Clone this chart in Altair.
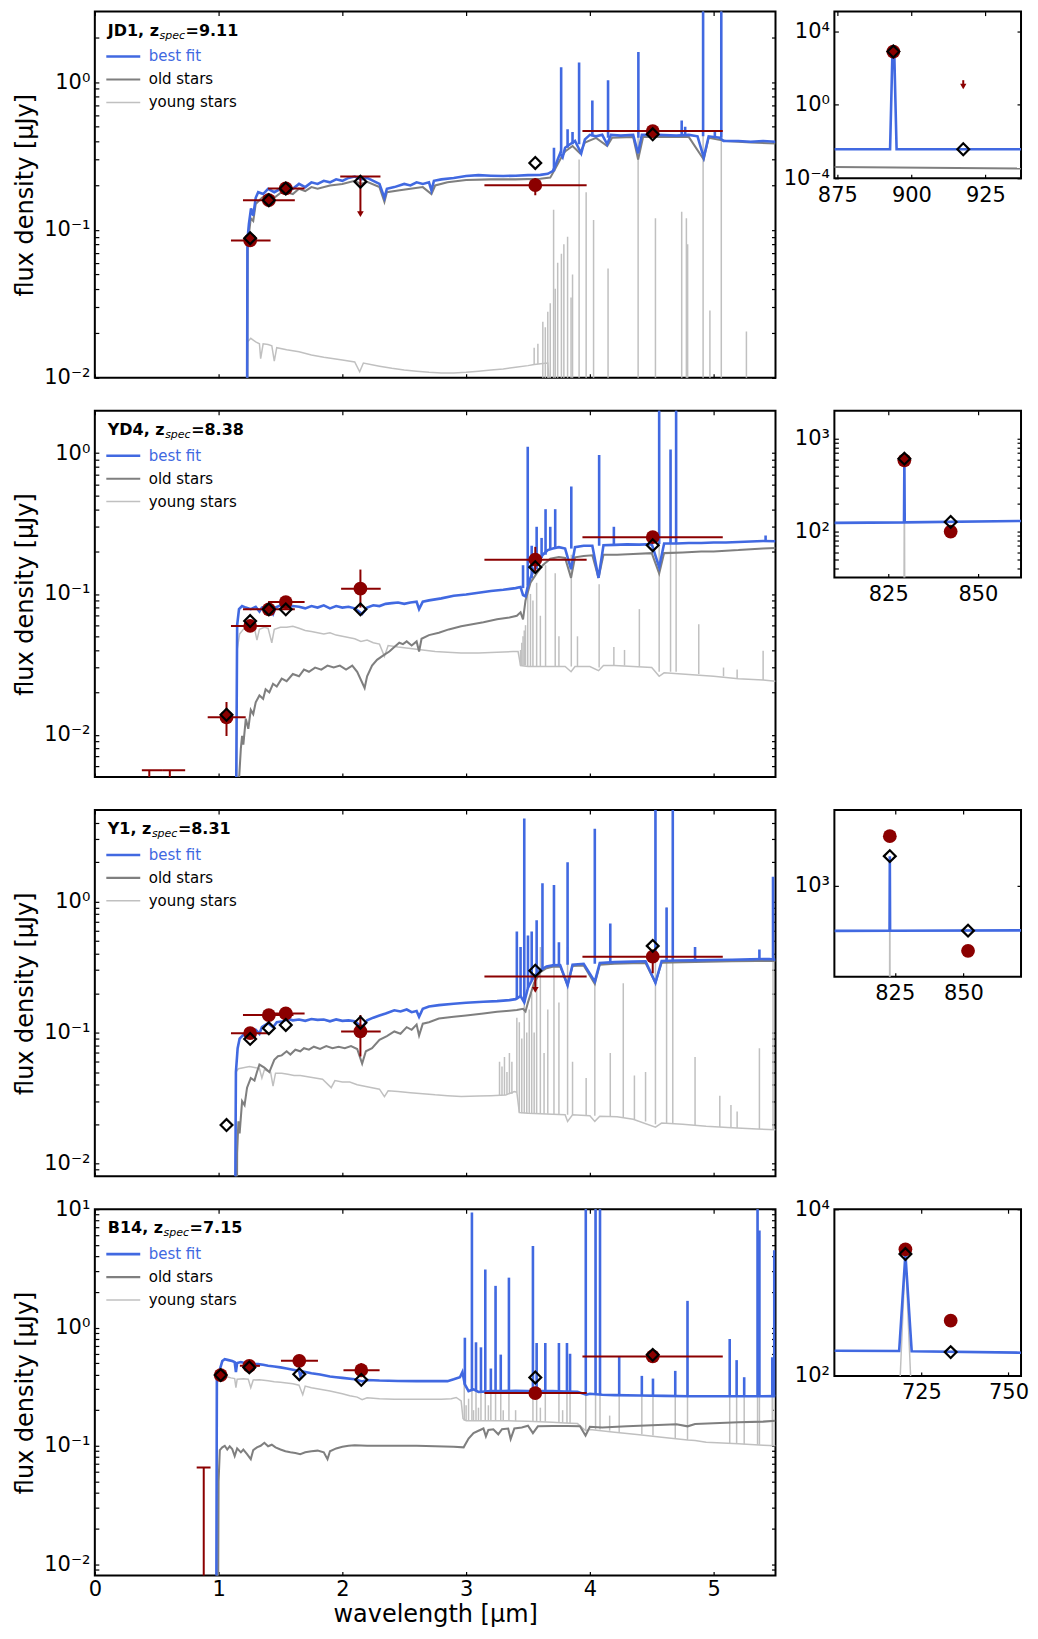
import altair as alt
import pandas as pd

BLUE = "#4169e1"
OLD_C = "#7f7f7f"
YOUNG_C = "#c0c0c0"
RED = "#8b0000"
COMPS = ["best fit", "old stars", "young stars"]
FONT = "DejaVu Sans"

# ================= JD1 =================
JD1_NAME, JD1_Z = "JD1", "9.11"
JD1_YDOM = [0.01, 3.0]
JD1_BEST = [(1.226, 1e-4), (1.233, 0.085), (1.245, 0.11), (1.262, 0.14), (1.28, 0.125), (1.30, 0.165), (1.32, 0.18),
            (1.36, 0.175), (1.40, 0.19), (1.45, 0.18), (1.50, 0.19), (1.55, 0.195), (1.60, 0.19), (1.65, 0.205),
            (1.70, 0.195), (1.75, 0.21), (1.80, 0.205), (1.85, 0.215), (1.90, 0.21), (1.95, 0.22), (2.00, 0.215),
            (2.05, 0.225), (2.10, 0.23), (2.15, 0.22), (2.20, 0.225), (2.25, 0.215), (2.30, 0.205), (2.34, 0.165),
            (2.36, 0.19), (2.42, 0.195), (2.50, 0.205), (2.55, 0.2), (2.60, 0.21), (2.65, 0.205), (2.70, 0.21),
            (2.72, 0.185), (2.74, 0.215), (2.80, 0.22), (2.90, 0.225), (3.00, 0.232), (3.10, 0.235), (3.20, 0.233),
            (3.30, 0.232), (3.40, 0.233), (3.50, 0.235), (3.60, 0.236), (3.66, 0.24), (3.70, 0.25), (3.72, 0.27),
            (3.74, 0.30), (3.76, 0.33), (3.78, 0.31), (3.80, 0.36), (3.84, 0.38), (3.88, 0.40), (3.93, 0.33),
            (3.96, 0.41), (4.00, 0.44), (4.05, 0.43), (4.10, 0.44), (4.14, 0.38), (4.17, 0.44), (4.25, 0.435),
            (4.35, 0.44), (4.39, 0.33), (4.42, 0.44), (4.55, 0.44), (4.70, 0.435), (4.80, 0.44), (4.87, 0.43),
            (4.92, 0.31), (4.96, 0.43), (5.05, 0.42), (5.08, 0.40), (5.20, 0.40), (5.30, 0.395), (5.40, 0.40),
            (5.50, 0.395)]
JD1_BEST_LINES = [(3.71, 0.25, 0.36), (3.768, 0.33, 1.26), (3.82, 0.36, 0.48), (3.86, 0.38, 0.46), (3.913, 0.38, 1.36),
                  (4.02, 0.43, 0.75), (4.147, 0.42, 1.03), (4.392, 0.42, 1.6), (4.742, 0.44, 0.55), (4.77, 0.44, 0.5),
                  (4.915, 0.43, 50.0), (5.01, 0.42, 0.47), (5.062, 0.42, 50.0)]
JD1_OLD = [(1.226, 1e-4), (1.235, 0.08), (1.26, 0.12), (1.28, 0.115), (1.30, 0.15), (1.35, 0.165), (1.40, 0.175),
           (1.45, 0.165), (1.50, 0.178), (1.55, 0.18), (1.60, 0.175), (1.65, 0.19), (1.70, 0.183), (1.75, 0.195),
           (1.80, 0.19), (1.90, 0.2), (2.00, 0.205), (2.10, 0.215), (2.15, 0.205), (2.20, 0.212), (2.30, 0.195),
           (2.34, 0.155), (2.36, 0.18), (2.45, 0.185), (2.55, 0.19), (2.65, 0.195), (2.72, 0.175), (2.75, 0.2),
           (2.85, 0.21), (3.00, 0.218), (3.20, 0.22), (3.40, 0.22), (3.60, 0.222), (3.68, 0.226), (3.72, 0.26),
           (3.76, 0.30), (3.80, 0.34), (3.86, 0.37), (3.92, 0.33), (3.96, 0.39), (4.05, 0.42), (4.14, 0.37),
           (4.18, 0.42), (4.35, 0.425), (4.39, 0.30), (4.43, 0.425), (4.60, 0.425), (4.80, 0.425), (4.92, 0.30),
           (4.96, 0.42), (5.10, 0.40), (5.30, 0.39), (5.50, 0.385)]
JD1_YOUNG = [(1.226, 1e-4), (1.233, 0.0175), (1.26, 0.0185), (1.30, 0.0175), (1.33, 0.017), (1.34, 0.0135),
             (1.36, 0.017), (1.40, 0.0168), (1.43, 0.0165), (1.45, 0.013), (1.47, 0.016), (1.55, 0.0155),
             (1.65, 0.015), (1.75, 0.0143), (1.85, 0.0138), (2.00, 0.0132), (2.10, 0.0128), (2.14, 0.011),
             (2.17, 0.0126), (2.30, 0.012), (2.40, 0.0116), (2.50, 0.0113), (2.60, 0.0111), (2.70, 0.0109),
             (2.80, 0.0108), (2.90, 0.0108), (3.00, 0.0109), (3.10, 0.0111), (3.20, 0.0113), (3.30, 0.0115),
             (3.40, 0.0118), (3.50, 0.0121), (3.55, 0.0123), (3.62, 0.0125), (3.66, 0.0126), (3.70, 0.0045),
             (3.90, 0.004), (4.50, 0.0035), (5.50, 0.003)]
JD1_YOUNG_LINES = [(3.55, 0.0122, 0.016), (3.58, 0.0124, 0.017), (3.62, 0.004, 0.024), (3.64, 0.004, 0.022),
                   (3.66, 0.004, 0.028), (3.68, 0.004, 0.032), (3.707, 0.004, 0.137), (3.72, 0.004, 0.04),
                   (3.74, 0.004, 0.06), (3.77, 0.004, 0.069), (3.79, 0.004, 0.08), (3.82, 0.004, 0.09),
                   (3.848, 0.004, 0.035), (3.86, 0.004, 0.05), (3.913, 0.004, 0.3), (3.97, 0.004, 0.18),
                   (4.03, 0.004, 0.117), (4.147, 0.004, 0.055), (4.39, 0.004, 0.5), (4.53, 0.004, 0.12),
                   (4.742, 0.004, 0.133), (4.78, 0.004, 0.12), (4.79, 0.004, 0.08), (4.915, 0.004, 50.0),
                   (4.97, 0.004, 0.0286), (5.062, 0.004, 50.0), (5.265, 0.004, 0.0206)]
JD1_OBS = [(1.255, 0.085, 1.10, 1.42, 0.085, 0.085), (1.406, 0.159, 1.197, 1.616, 0.159, 0.159),
           (1.543, 0.191, 1.40, 1.695, 0.191, 0.191), (3.559, 0.201, 3.148, 3.974, 0.172, 0.225),
           (4.508, 0.467, 3.94, 5.074, 0.44, 0.50)]
JD1_ULIM = [(2.146, 0.23, 1.983, 2.308, 0.128)]
JD1_CAPS = []
JD1_MODEL = [(1.255, 0.088), (1.406, 0.159), (1.543, 0.191), (2.146, 0.212), (3.559, 0.284), (4.508, 0.444)]
JD1_IN_XDOM, JD1_IN_YDOM = [874, 937], [1e-4, 1.2e5]
JD1_IN_XTICKS, JD1_IN_YTICKS = [875, 900, 925], [1e-4, 1.0, 1e4]
JD1_IN_BEST = [(874, 0.0038), (892.8, 0.0038), (893.6, 800), (894.2, 800), (895.0, 0.0038), (937, 0.0038)]
JD1_IN_OLD = [(874, 4.1e-4), (937, 3.4e-4)]
JD1_IN_YOUNG = []
JD1_IN_OBS = [(893.9, 800)]
JD1_IN_MODEL = [(893.9, 800), (917.5, 0.0038)]
JD1_IN_ULIM = [(917.5, 22.0, 10.0)]

# ================= YD4 =================
YD4_NAME, YD4_Z = "YD4", "8.38"
YD4_YDOM = [0.005, 2.0]
YD4_BEST = [(1.135, 1e-4), (1.143, 0.005), (1.15, 0.06), (1.165, 0.078), (1.19, 0.082), (1.22, 0.08), (1.26, 0.078),
            (1.30, 0.081), (1.33, 0.075), (1.35, 0.08), (1.40, 0.082), (1.44, 0.072), (1.46, 0.08), (1.50, 0.083),
            (1.55, 0.08), (1.60, 0.082), (1.65, 0.081), (1.70, 0.079), (1.75, 0.082), (1.80, 0.08), (1.85, 0.083),
            (1.90, 0.079), (1.95, 0.082), (2.00, 0.08), (2.05, 0.081), (2.10, 0.079), (2.16, 0.072), (2.20, 0.08),
            (2.25, 0.083), (2.30, 0.082), (2.35, 0.085), (2.40, 0.086), (2.45, 0.087), (2.50, 0.085), (2.55, 0.087),
            (2.60, 0.088), (2.62, 0.078), (2.65, 0.088), (2.70, 0.09), (2.80, 0.093), (2.90, 0.097), (3.00, 0.099),
            (3.10, 0.102), (3.20, 0.105), (3.30, 0.107), (3.40, 0.11), (3.44, 0.112), (3.46, 0.098), (3.48, 0.096),
            (3.50, 0.115), (3.52, 0.13), (3.55, 0.15), (3.58, 0.17), (3.62, 0.19), (3.66, 0.205), (3.70, 0.21),
            (3.75, 0.215), (3.80, 0.21), (3.848, 0.15), (3.88, 0.215), (3.95, 0.22), (4.02, 0.22), (4.07, 0.13),
            (4.11, 0.222), (4.20, 0.223), (4.30, 0.225), (4.40, 0.224), (4.50, 0.226), (4.56, 0.155), (4.60, 0.228),
            (4.70, 0.228), (4.80, 0.23), (4.90, 0.23), (5.00, 0.232), (5.10, 0.232), (5.20, 0.234), (5.30, 0.236),
            (5.40, 0.238), (5.50, 0.237)]
YD4_BEST_LINES = [(3.46, 0.11, 0.16), (3.498, 0.115, 1.11), (3.53, 0.13, 0.22), (3.57, 0.15, 0.30), (3.61, 0.18, 0.25),
                  (3.642, 0.19, 0.40), (3.68, 0.205, 0.30), (3.72, 0.21, 0.40), (3.85, 0.21, 0.58),
                  (4.075, 0.22, 0.97), (4.194, 0.223, 0.30), (4.56, 0.226, 50.0), (4.652, 0.228, 1.06),
                  (4.697, 0.228, 50.0), (5.42, 0.238, 0.26)]
YD4_OLD = [(1.145, 1e-4), (1.16, 0.004), (1.18, 0.008), (1.19, 0.0098), (1.20, 0.0085), (1.22, 0.013), (1.24, 0.011),
           (1.26, 0.015), (1.28, 0.014), (1.30, 0.017), (1.33, 0.019), (1.36, 0.018), (1.38, 0.021), (1.41, 0.02),
           (1.44, 0.023), (1.47, 0.022), (1.51, 0.025), (1.55, 0.024), (1.60, 0.027), (1.65, 0.026), (1.69, 0.029),
           (1.73, 0.028), (1.78, 0.03), (1.83, 0.029), (1.88, 0.031), (1.93, 0.03), (1.98, 0.031), (2.03, 0.029),
           (2.08, 0.031), (2.12, 0.028), (2.18, 0.0215), (2.20, 0.026), (2.24, 0.031), (2.28, 0.034), (2.34, 0.037),
           (2.38, 0.039), (2.42, 0.042), (2.46, 0.045), (2.49, 0.044), (2.52, 0.046), (2.56, 0.043), (2.60, 0.046),
           (2.62, 0.039), (2.64, 0.048), (2.70, 0.051), (2.78, 0.053), (2.86, 0.056), (2.96, 0.059), (3.05, 0.061),
           (3.14, 0.063), (3.25, 0.066), (3.35, 0.068), (3.41, 0.07), (3.44, 0.074), (3.46, 0.066), (3.48, 0.09),
           (3.52, 0.12), (3.57, 0.14), (3.62, 0.16), (3.68, 0.178), (3.75, 0.183), (3.80, 0.18), (3.848, 0.13),
           (3.88, 0.182), (3.95, 0.186), (4.02, 0.188), (4.07, 0.13), (4.11, 0.19), (4.22, 0.19), (4.35, 0.192),
           (4.50, 0.195), (4.56, 0.14), (4.60, 0.195), (4.75, 0.197), (4.90, 0.2), (5.00, 0.2), (5.10, 0.203),
           (5.20, 0.205), (5.30, 0.208), (5.40, 0.21), (5.50, 0.212)]
YD4_YOUNG = [(1.143, 1e-4), (1.15, 0.04), (1.17, 0.052), (1.20, 0.056), (1.25, 0.057), (1.29, 0.057), (1.31, 0.047),
             (1.33, 0.056), (1.37, 0.058), (1.40, 0.057), (1.43, 0.045), (1.45, 0.056), (1.50, 0.058), (1.55, 0.058),
             (1.60, 0.059), (1.65, 0.057), (1.70, 0.055), (1.75, 0.054), (1.80, 0.053), (1.85, 0.052), (1.90, 0.053),
             (1.95, 0.051), (2.00, 0.05), (2.05, 0.049), (2.10, 0.048), (2.15, 0.046), (2.20, 0.047), (2.25, 0.045),
             (2.30, 0.044), (2.34, 0.036), (2.37, 0.043), (2.45, 0.042), (2.55, 0.041), (2.65, 0.04), (2.75, 0.039),
             (2.85, 0.0385), (2.96, 0.038), (3.10, 0.038), (3.25, 0.0385), (3.38, 0.039), (3.42, 0.039), (3.44, 0.031),
             (3.50, 0.0305), (3.60, 0.0305), (3.70, 0.0305), (3.80, 0.0305), (3.848, 0.028), (3.88, 0.0305),
             (4.00, 0.0305), (4.07, 0.0285), (4.11, 0.031), (4.20, 0.031), (4.35, 0.0305), (4.50, 0.03),
             (4.56, 0.026), (4.60, 0.0275), (4.80, 0.0268), (5.00, 0.026), (5.20, 0.025), (5.40, 0.0245),
             (5.50, 0.024)]
YD4_YOUNG_LINES = [(3.44, 0.031, 0.04), (3.45, 0.031, 0.045), (3.46, 0.031, 0.05), (3.47, 0.031, 0.055),
                   (3.48, 0.031, 0.06), (3.498, 0.0305, 0.11), (3.52, 0.0305, 0.1), (3.54, 0.0305, 0.09),
                   (3.57, 0.0305, 0.12), (3.60, 0.0305, 0.07), (3.642, 0.0305, 0.16), (3.72, 0.0305, 0.14),
                   (3.75, 0.0305, 0.05), (3.85, 0.0305, 0.19), (3.90, 0.0305, 0.05), (4.075, 0.03, 0.117),
                   (4.194, 0.031, 0.042), (4.28, 0.031, 0.04), (4.40, 0.0305, 0.078), (4.56, 0.028, 50.0),
                   (4.652, 0.028, 1.0), (4.697, 0.028, 50.0), (4.88, 0.027, 0.061), (5.08, 0.026, 0.03),
                   (5.19, 0.025, 0.029), (5.40, 0.0245, 0.0395)]
YD4_OBS = [(1.064, 0.0133, 0.912, 1.219, 0.0098, 0.0171), (1.255, 0.0592, 1.10, 1.424, 0.0592, 0.0592),
           (1.406, 0.0777, 1.197, 1.616, 0.0777, 0.0777), (1.543, 0.0875, 1.40, 1.695, 0.0875, 0.0875),
           (2.146, 0.109, 1.99, 2.31, 0.08, 0.149), (3.559, 0.175, 3.148, 3.974, 0.145, 0.216),
           (4.508, 0.253, 3.94, 5.074, 0.238, 0.27)]
YD4_ULIM = []
YD4_CAPS = [(0.44, 0.0056, 0.38, 0.55), (0.606, 0.0056, 0.55, 0.73)]
YD4_MODEL = [(1.064, 0.01386), (1.255, 0.0642), (1.406, 0.0777), (1.543, 0.0777), (2.146, 0.0777), (3.559, 0.155),
             (4.508, 0.222)]
YD4_IN_XDOM, YD4_IN_YDOM = [810, 862], [32, 2000]
YD4_IN_XTICKS, YD4_IN_YTICKS = [825, 850], [40, 50, 60, 70, 80, 90, 100, 200, 300, 400, 500, 600, 700, 800, 900, 1000]
YD4_IN_BEST = [(810, 124), (829.4, 125.5), (829.5, 600), (829.6, 125.5), (862, 130)]
YD4_IN_OLD = []
YD4_IN_YOUNG = [(810, 20), (829.4, 20), (829.5, 600), (829.6, 20), (862, 20)]
YD4_IN_OBS = [(829.5, 585), (842.4, 100)]
YD4_IN_MODEL = [(829.5, 610), (842.4, 127)]
YD4_IN_ULIM = []

# ================= Y1 =================
Y1_NAME, Y1_Z = "Y1", "8.31"
Y1_YDOM = [0.008, 5.0]
Y1_BEST = [(1.128, 1e-4), (1.136, 0.01), (1.14, 0.05), (1.154, 0.076), (1.17, 0.09), (1.20, 0.096), (1.23, 0.093),
           (1.26, 0.1), (1.30, 0.105), (1.33, 0.098), (1.35, 0.11), (1.40, 0.118), (1.44, 0.11), (1.47, 0.12),
           (1.52, 0.122), (1.56, 0.127), (1.60, 0.124), (1.65, 0.126), (1.70, 0.123), (1.75, 0.127), (1.80, 0.125),
           (1.85, 0.126), (1.90, 0.122), (1.95, 0.126), (2.00, 0.123), (2.05, 0.124), (2.10, 0.122), (2.16, 0.11),
           (2.20, 0.124), (2.25, 0.13), (2.30, 0.135), (2.35, 0.14), (2.42, 0.148), (2.47, 0.145), (2.52, 0.15),
           (2.56, 0.143), (2.60, 0.146), (2.62, 0.132), (2.65, 0.152), (2.70, 0.158), (2.78, 0.162), (2.90, 0.166),
           (3.00, 0.169), (3.14, 0.172), (3.25, 0.174), (3.35, 0.177), (3.40, 0.18), (3.44, 0.19), (3.47, 0.17),
           (3.50, 0.22), (3.55, 0.27), (3.60, 0.3), (3.65, 0.32), (3.70, 0.326), (3.76, 0.328), (3.82, 0.23),
           (3.86, 0.33), (3.95, 0.335), (4.04, 0.245), (4.08, 0.34), (4.20, 0.345), (4.35, 0.348), (4.45, 0.35),
           (4.53, 0.24), (4.58, 0.352), (4.70, 0.355), (4.85, 0.356), (5.00, 0.358), (5.15, 0.36), (5.30, 0.362),
           (5.45, 0.365), (5.50, 0.36)]
Y1_BEST_LINES = [(3.41, 0.18, 0.59), (3.44, 0.19, 0.45), (3.47, 0.17, 4.3), (3.50, 0.22, 0.55), (3.53, 0.25, 0.59),
                 (3.57, 0.28, 0.72), (3.617, 0.30, 1.38), (3.71, 0.326, 1.34), (3.75, 0.328, 0.49),
                 (3.82, 0.33, 2.0), (4.04, 0.335, 3.6), (4.165, 0.342, 0.68), (4.53, 0.35, 50.0),
                 (4.62, 0.353, 0.9), (4.67, 0.355, 50.0), (4.85, 0.356, 0.45), (5.37, 0.363, 0.43),
                 (5.48, 0.365, 1.55)]
Y1_OLD = [(1.14, 1e-4), (1.15, 0.012), (1.16, 0.021), (1.17, 0.017), (1.19, 0.03), (1.21, 0.028), (1.23, 0.038),
          (1.26, 0.045), (1.29, 0.043), (1.31, 0.05), (1.33, 0.057), (1.37, 0.054), (1.41, 0.05), (1.45, 0.062),
          (1.48, 0.066), (1.51, 0.067), (1.55, 0.072), (1.58, 0.068), (1.62, 0.074), (1.66, 0.072), (1.69, 0.076),
          (1.73, 0.074), (1.77, 0.078), (1.82, 0.075), (1.87, 0.079), (1.92, 0.076), (1.97, 0.078), (2.02, 0.076),
          (2.07, 0.079), (2.12, 0.075), (2.16, 0.058), (2.19, 0.072), (2.24, 0.076), (2.30, 0.088), (2.36, 0.094),
          (2.42, 0.102), (2.47, 0.098), (2.52, 0.11), (2.56, 0.105), (2.60, 0.115), (2.62, 0.095), (2.65, 0.117),
          (2.70, 0.12), (2.78, 0.128), (2.90, 0.132), (3.00, 0.135), (3.14, 0.14), (3.25, 0.144), (3.35, 0.147),
          (3.41, 0.149), (3.46, 0.152), (3.48, 0.145), (3.50, 0.17), (3.55, 0.24), (3.60, 0.29), (3.65, 0.31),
          (3.70, 0.318), (3.76, 0.32), (3.82, 0.23), (3.86, 0.322), (3.95, 0.326), (4.04, 0.235), (4.08, 0.33),
          (4.20, 0.335), (4.35, 0.338), (4.45, 0.34), (4.53, 0.24), (4.58, 0.342), (4.75, 0.345), (4.95, 0.347),
          (5.15, 0.35), (5.35, 0.352), (5.50, 0.352)]
Y1_YOUNG = [(1.135, 1e-4), (1.14, 0.05), (1.16, 0.053), (1.20, 0.054), (1.25, 0.055), (1.30, 0.054), (1.33, 0.053),
            (1.35, 0.045), (1.37, 0.052), (1.42, 0.05), (1.44, 0.039), (1.46, 0.049), (1.51, 0.049), (1.56, 0.048),
            (1.61, 0.047), (1.66, 0.047), (1.72, 0.046), (1.78, 0.045), (1.84, 0.044), (1.91, 0.038), (1.94, 0.043),
            (2.00, 0.042), (2.06, 0.042), (2.12, 0.04), (2.18, 0.039), (2.24, 0.038), (2.30, 0.037), (2.34, 0.0325),
            (2.37, 0.036), (2.45, 0.0355), (2.55, 0.0348), (2.65, 0.0342), (2.75, 0.0335), (2.85, 0.033),
            (2.96, 0.0325), (3.10, 0.0328), (3.20, 0.033), (3.32, 0.0334), (3.39, 0.0355), (3.41, 0.035),
            (3.43, 0.0245), (3.50, 0.0242), (3.60, 0.024), (3.70, 0.0238), (3.80, 0.0236), (3.82, 0.021),
            (3.86, 0.0236), (4.00, 0.0232), (4.04, 0.021), (4.08, 0.023), (4.22, 0.0228), (4.35, 0.0218),
            (4.53, 0.019), (4.58, 0.0204), (4.75, 0.02), (4.94, 0.0193), (5.15, 0.0188), (5.35, 0.0184),
            (5.50, 0.0181)]
Y1_YOUNG_LINES = [(3.27, 0.0333, 0.06), (3.29, 0.0333, 0.055), (3.31, 0.0334, 0.065), (3.33, 0.0334, 0.05),
                  (3.35, 0.034, 0.07), (3.37, 0.034, 0.06), (3.41, 0.035, 0.13), (3.43, 0.0245, 0.12),
                  (3.45, 0.0242, 0.09), (3.47, 0.0242, 0.3), (3.49, 0.0242, 0.1), (3.51, 0.0242, 0.15),
                  (3.53, 0.0242, 0.2), (3.55, 0.0242, 0.1), (3.57, 0.024, 0.3), (3.60, 0.024, 0.45),
                  (3.63, 0.024, 0.07), (3.66, 0.024, 0.15), (3.71, 0.0238, 0.4), (3.75, 0.0238, 0.17),
                  (3.82, 0.0236, 0.45), (3.86, 0.0236, 0.06), (3.97, 0.0233, 0.045), (4.04, 0.0232, 0.25),
                  (4.165, 0.0229, 0.07), (4.27, 0.0225, 0.238), (4.36, 0.0218, 0.047), (4.45, 0.021, 0.05),
                  (4.53, 0.02, 50.0), (4.62, 0.0204, 0.9), (4.67, 0.0204, 50.0), (4.85, 0.0196, 0.065),
                  (5.05, 0.019, 0.033), (5.14, 0.0188, 0.028), (5.19, 0.0187, 0.025), (5.37, 0.0184, 0.076),
                  (5.48, 0.0181, 1.5)]
Y1_OBS = [(1.255, 0.0989, 1.10, 1.406, 0.0989, 0.0989), (1.406, 0.136, 1.197, 1.605, 0.136, 0.136),
          (1.543, 0.14, 1.40, 1.695, 0.14, 0.14), (2.146, 0.102, 1.99, 2.31, 0.0656, 0.136),
          (4.508, 0.38, 3.94, 5.074, 0.284, 0.43)]
Y1_ULIM = [(3.559, 0.268, 3.148, 3.974, 0.212)]
Y1_CAPS = []
Y1_MODEL = [(1.064, 0.0197), (1.255, 0.0895), (1.406, 0.108), (1.543, 0.1144), (2.146, 0.119), (3.559, 0.297),
            (4.508, 0.459)]
Y1_IN_XDOM, Y1_IN_YDOM = [803, 871], [174, 4300]
Y1_IN_XTICKS, Y1_IN_YTICKS = [825, 850], [1000]
Y1_IN_BEST = [(803, 420), (823.1, 421), (823.2, 1770), (823.3, 421), (871, 424)]
Y1_IN_OLD = []
Y1_IN_YOUNG = [(803, 100), (823.1, 100), (823.2, 1700), (823.3, 100), (871, 100)]
Y1_IN_OBS = [(823.2, 2600), (851.7, 286)]
Y1_IN_MODEL = [(823.2, 1770), (851.7, 422)]
Y1_IN_ULIM = []

# ================= B14 =================
B14_NAME, B14_Z = "B14", "7.15"
B14_YDOM = [0.008, 10.0]
B14_BEST = [(0.978, 1e-4), (0.986, 0.37), (0.995, 0.39), (1.01, 0.44), (1.03, 0.52), (1.05, 0.54), (1.08, 0.53),
            (1.11, 0.52), (1.13, 0.51), (1.14, 0.42), (1.15, 0.5), (1.18, 0.51), (1.21, 0.5), (1.24, 0.49),
            (1.26, 0.455), (1.28, 0.49), (1.32, 0.49), (1.36, 0.485), (1.40, 0.475), (1.45, 0.468), (1.50, 0.46),
            (1.55, 0.45), (1.60, 0.44), (1.65, 0.43), (1.66, 0.39), (1.68, 0.425), (1.75, 0.41), (1.82, 0.4),
            (1.90, 0.385), (1.95, 0.38), (2.00, 0.375), (2.10, 0.365), (2.16, 0.35), (2.20, 0.36), (2.30, 0.356),
            (2.45, 0.353), (2.60, 0.352), (2.75, 0.352), (2.85, 0.352), (2.90, 0.365), (2.95, 0.38), (2.97, 0.42),
            (2.99, 0.33), (3.02, 0.29), (3.06, 0.30), (3.10, 0.285), (3.20, 0.29), (3.30, 0.29), (3.40, 0.292),
            (3.50, 0.29), (3.60, 0.29), (3.70, 0.29), (3.80, 0.288), (3.90, 0.286), (3.97, 0.27), (4.00, 0.275),
            (4.10, 0.27), (4.20, 0.268), (4.40, 0.266), (4.60, 0.264), (4.80, 0.262), (5.00, 0.262),
            (5.20, 0.262), (5.40, 0.262), (5.50, 0.263)]
B14_BEST_LINES = [(2.99, 0.33, 0.82), (3.047, 0.29, 9.4), (3.08, 0.29, 0.75), (3.12, 0.29, 0.68),
                  (3.155, 0.29, 3.1), (3.20, 0.29, 0.45), (3.238, 0.29, 2.25), (3.28, 0.29, 0.59),
                  (3.346, 0.29, 2.64), (3.54, 0.29, 4.9), (3.57, 0.29, 0.74), (3.64, 0.29, 0.74),
                  (3.75, 0.29, 0.74), (3.815, 0.288, 0.74), (3.84, 0.288, 0.6), (3.967, 0.27, 50.0),
                  (4.046, 0.27, 50.0), (4.082, 0.27, 50.0), (4.237, 0.268, 0.57), (4.42, 0.266, 0.39),
                  (4.51, 0.265, 0.37), (4.69, 0.263, 0.43), (4.789, 0.262, 1.68), (5.13, 0.262, 0.8),
                  (5.186, 0.262, 0.53), (5.247, 0.262, 0.38), (5.355, 0.262, 50.0), (5.37, 0.262, 6.6),
                  (5.474, 0.262, 0.56), (5.49, 0.262, 4.5)]
B14_OLD = [(0.99, 1e-4), (1.00, 0.05), (1.01, 0.092), (1.03, 0.097), (1.05, 0.1), (1.07, 0.093), (1.09, 0.099),
           (1.11, 0.094), (1.13, 0.082), (1.15, 0.095), (1.18, 0.088), (1.20, 0.093), (1.23, 0.085), (1.26, 0.077),
           (1.28, 0.092), (1.31, 0.097), (1.34, 0.1), (1.37, 0.106), (1.40, 0.099), (1.43, 0.102), (1.46, 0.097),
           (1.50, 0.093), (1.54, 0.09), (1.58, 0.088), (1.62, 0.087), (1.66, 0.085), (1.70, 0.088), (1.75, 0.09),
           (1.80, 0.091), (1.85, 0.088), (1.88, 0.077), (1.90, 0.09), (1.95, 0.095), (2.00, 0.098), (2.05, 0.1),
           (2.10, 0.101), (2.20, 0.1), (2.30, 0.1), (2.45, 0.1), (2.60, 0.1), (2.75, 0.099), (2.90, 0.098),
           (2.98, 0.097), (3.02, 0.115), (3.06, 0.128), (3.10, 0.134), (3.14, 0.14), (3.16, 0.12), (3.18, 0.136),
           (3.22, 0.138), (3.26, 0.125), (3.29, 0.138), (3.34, 0.14), (3.36, 0.114), (3.39, 0.14), (3.45, 0.143),
           (3.50, 0.148), (3.54, 0.128), (3.58, 0.146), (3.70, 0.147), (3.82, 0.147), (3.92, 0.146),
           (3.965, 0.122), (4.00, 0.145), (4.10, 0.143), (4.30, 0.146), (4.50, 0.149), (4.70, 0.152),
           (4.79, 0.146), (4.85, 0.153), (5.00, 0.155), (5.20, 0.158), (5.40, 0.16), (5.50, 0.163)]
B14_YOUNG = [(0.986, 1e-4), (0.99, 0.35), (1.01, 0.415), (1.03, 0.4), (1.06, 0.385), (1.10, 0.375), (1.13, 0.37),
             (1.14, 0.31), (1.15, 0.365), (1.20, 0.368), (1.24, 0.365), (1.26, 0.31), (1.28, 0.36), (1.33, 0.362),
             (1.40, 0.355), (1.45, 0.348), (1.50, 0.345), (1.55, 0.34), (1.60, 0.335), (1.65, 0.325), (1.68, 0.27),
             (1.70, 0.32), (1.75, 0.31), (1.82, 0.3), (1.90, 0.29), (2.00, 0.275), (2.06, 0.265), (2.12, 0.258),
             (2.16, 0.245), (2.20, 0.255), (2.30, 0.25), (2.42, 0.248), (2.55, 0.247), (2.70, 0.247), (2.80, 0.248),
             (2.88, 0.25), (2.92, 0.256), (2.96, 0.24), (2.975, 0.17), (3.00, 0.163), (3.10, 0.163), (3.20, 0.163),
             (3.30, 0.163), (3.40, 0.162), (3.50, 0.161), (3.60, 0.16), (3.70, 0.158), (3.80, 0.156),
             (3.90, 0.154), (3.967, 0.134), (4.00, 0.137), (4.20, 0.13), (4.40, 0.124), (4.58, 0.118),
             (4.79, 0.112), (4.85, 0.111), (4.94, 0.107), (5.20, 0.104), (5.40, 0.101), (5.50, 0.1)]
B14_YOUNG_LINES = [(2.985, 0.163, 0.35), (3.00, 0.163, 0.22), (3.02, 0.163, 0.25), (3.047, 0.163, 9.0),
                   (3.06, 0.163, 0.2), (3.08, 0.163, 0.7), (3.10, 0.163, 0.21), (3.12, 0.163, 0.65),
                   (3.155, 0.163, 3.0), (3.18, 0.163, 0.22), (3.20, 0.163, 0.43), (3.238, 0.163, 2.0),
                   (3.28, 0.163, 0.55), (3.30, 0.163, 0.2), (3.346, 0.162, 2.5), (3.40, 0.162, 0.2),
                   (3.54, 0.161, 4.8), (3.57, 0.161, 0.7), (3.60, 0.16, 0.21), (3.64, 0.16, 0.7),
                   (3.75, 0.158, 0.7), (3.78, 0.158, 0.2), (3.815, 0.156, 0.7), (3.84, 0.156, 0.55),
                   (3.967, 0.134, 50.0), (4.046, 0.137, 50.0), (4.082, 0.137, 50.0), (4.16, 0.134, 0.18),
                   (4.237, 0.13, 0.55), (4.42, 0.125, 0.37), (4.51, 0.122, 0.35), (4.69, 0.116, 0.4),
                   (4.789, 0.112, 1.6), (5.13, 0.105, 0.75), (5.186, 0.104, 0.5), (5.247, 0.103, 0.36),
                   (5.355, 0.102, 50.0), (5.37, 0.102, 6.0), (5.474, 0.1, 0.5), (5.49, 0.1, 4.5)]
B14_OBS = [(1.017, 0.396, 0.98, 1.06, 0.396, 0.396), (1.248, 0.474, 1.172, 1.334, 0.474, 0.474),
           (1.652, 0.523, 1.504, 1.803, 0.46, 0.59), (2.153, 0.436, 2.009, 2.301, 0.38, 0.50),
           (3.559, 0.279, 3.148, 3.974, 0.25, 0.31), (4.508, 0.569, 3.94, 5.074, 0.55, 0.60)]
B14_ULIM = []
B14_CAPS = [(0.88, 0.0656, 0.823, 0.935)]
B14_MODEL = [(1.017, 0.396), (1.248, 0.46), (1.652, 0.403), (2.153, 0.361), (3.559, 0.378), (4.508, 0.587)]
B14_IN_XDOM, B14_IN_YDOM = [700, 753.6], [100, 10000]
B14_IN_XTICKS, B14_IN_YTICKS = [725, 750], [100, 10000]
B14_IN_BEST = [(700, 200), (718.6, 199), (720.4, 2900), (722.2, 198), (753.6, 190)]
B14_IN_OLD = []
B14_IN_YOUNG = [(700, 50), (718.6, 50), (720.4, 2800), (722.2, 50), (753.6, 50)]
B14_IN_OBS = [(720.4, 3300), (733.4, 460)]
B14_IN_MODEL = [(720.4, 2900), (733.4, 193)]
B14_IN_ULIM = []

MAIN_XTICKS = [0, 1, 2, 3, 4, 5]

# ---------------- helpers ----------------
BOLD_W = {'J': 0.372, 'D': 0.830, '1': 0.696, ',': 0.380, ' ': 0.348, 'z': 0.582, 'Y': 0.724, '4': 0.696,
          'B': 0.762, '=': 0.838, '9': 0.696, '.': 0.380, '3': 0.696, '8': 0.696, '7': 0.696, '5': 0.696}
OBL_W = {'s': 0.521, 'p': 0.635, 'e': 0.615, 'c': 0.550}

LOG_LABEL = ("abs(log(datum.value)/LN10 - round(log(datum.value)/LN10)) < 0.001 ? "
             "['10⁻⁴','10⁻³','10⁻²','10⁻¹','10⁰','10¹','10²','10³','10⁴','10⁵'][round(log(datum.value)/LN10)+4] : ''")


def log_ticks(lo, hi):
    # majors anywhere in range; minors strictly inside (so no empty label sits on an edge)
    vals = []
    for e in range(-5, 6):
        for m in range(1, 10):
            v = round(m * 10.0 ** e, 10)
            if m == 1 and lo * 0.999 <= v <= hi * 1.001:
                vals.append(v)
            elif m > 1 and lo * 1.02 < v < hi * 0.98:
                vals.append(v)
    return vals


def spec_df(comp, pts):
    return pd.DataFrame({"comp": [comp] * len(pts), "lam": [p[0] for p in pts], "flux": [p[1] for p in pts]})


def lines_df(comp, pts):
    return pd.DataFrame({"comp": [comp] * len(pts), "lam": [p[0] for p in pts],
                         "base": [p[1] for p in pts], "peak": [p[2] for p in pts]})


LEGEND = alt.Legend(orient="none", legendX=10, legendY=37, title=None, symbolType="stroke", symbolSize=1156,
                    labelFontSize=15, labelFont=FONT, labelOffset=7, clipHeight=16, rowPadding=7, padding=0,
                    labelColor=alt.ExprRef(expr="datum.label == 'best fit' ? '#4169e1' : 'black'"))
CSCALE = alt.Scale(domain=COMPS, range=[BLUE, OLD_C, YOUNG_C])
WSCALE = alt.Scale(domain=COMPS, range=[2.6, 1.5, 1.5])


def enc_color(show_legend):
    if show_legend:
        return (alt.Color("comp:N", scale=CSCALE, legend=LEGEND),
                alt.StrokeWidth("comp:N", scale=WSCALE, legend=LEGEND))
    return (alt.Color("comp:N", scale=CSCALE, legend=None),
            alt.StrokeWidth("comp:N", scale=WSCALE, legend=None))


def y_axis_left(values, title, ext):
    kw = dict(orient="left", values=values, labelExpr=LOG_LABEL, tickSize=4, offset=-4, domain=False, grid=False,
              labelPadding=5, labelFontSize=21, labelFont=FONT, labelOverlap=False, labelFlush=False,
              tickColor="black", labelColor="black", tickWidth=1.2, minExtent=ext, maxExtent=ext)
    if title:
        kw.update(title=title, titleFontSize=24, titleFont=FONT, titleFontWeight="normal", titlePadding=6,
                  titleColor="black")
    else:
        kw.update(title=None)
    return alt.Axis(**kw)


def y_axis_right(values):
    return alt.Axis(orient="right", values=values, labels=False, tickSize=4, offset=-4, domain=False, grid=False,
                    tickColor="black", tickWidth=1.2, title=None, minExtent=0, maxExtent=0)


def x_axis_bottom(values, labels, title, pad=3):
    kw = dict(orient="bottom", values=values, tickSize=4, offset=-4, domain=False, grid=False, tickColor="black",
              tickWidth=1.2, labels=labels, labelFontSize=21, labelFont=FONT, labelPadding=pad, labelFlush=False,
              labelOverlap=False, labelColor="black", minExtent=28, maxExtent=28)
    if title:
        kw.update(title=title, titleFontSize=24, titleFont=FONT, titleFontWeight="normal", titlePadding=3,
                  titleColor="black")
    else:
        kw.update(title=None)
    return alt.Axis(**kw)


def x_axis_top(values):
    return alt.Axis(orient="top", values=values, labels=False, tickSize=4, offset=-4, domain=False, grid=False,
                    tickColor="black", tickWidth=1.2, title=None, minExtent=0, maxExtent=0)


def point_layers(xs, ys, obs, ulim, caps, model, circle_size=190):
    layers = []
    if obs:
        od = pd.DataFrame(obs, columns=["lam", "f", "xlo", "xhi", "ylo", "yhi"])
        xe = od[od.xlo < od.xhi]
        ye = od[od.ylo < od.yhi]
        if len(xe):
            layers.append(alt.Chart(xe).mark_rule(color=RED, strokeWidth=2, clip=True).encode(
                x=alt.X("xlo:Q", scale=xs, axis=None), x2="xhi:Q", y=alt.Y("f:Q", scale=ys, axis=None)))
        if len(ye):
            layers.append(alt.Chart(ye).mark_rule(color=RED, strokeWidth=2, clip=True).encode(
                x=alt.X("lam:Q", scale=xs, axis=None), y=alt.Y("ylo:Q", scale=ys, axis=None), y2="yhi:Q"))
    if caps:
        cd = pd.DataFrame(caps, columns=["lam", "cap", "clo", "chi"])
        cd["bottom"] = 1e-5
        layers.append(alt.Chart(cd).mark_rule(color=RED, strokeWidth=2, clip=True).encode(
            x=alt.X("lam:Q", scale=xs, axis=None), y=alt.Y("bottom:Q", scale=ys, axis=None), y2="cap:Q"))
        layers.append(alt.Chart(cd).mark_rule(color=RED, strokeWidth=2, clip=True).encode(
            x=alt.X("clo:Q", scale=xs, axis=None), x2="chi:Q", y=alt.Y("cap:Q", scale=ys, axis=None)))
    if ulim:
        ud = pd.DataFrame(ulim, columns=["lam", "f", "xlo", "xhi", "end"])
        layers.append(alt.Chart(ud).mark_rule(color=RED, strokeWidth=2).encode(
            x=alt.X("xlo:Q", scale=xs, axis=None), x2="xhi:Q", y=alt.Y("f:Q", scale=ys, axis=None)))
        layers.append(alt.Chart(ud).mark_rule(color=RED, strokeWidth=2).encode(
            x=alt.X("lam:Q", scale=xs, axis=None), y=alt.Y("f:Q", scale=ys, axis=None), y2="end:Q"))
        layers.append(alt.Chart(ud).mark_point(shape="triangle-down", filled=True, color=RED, size=45,
                                                opacity=1).encode(
            x=alt.X("lam:Q", scale=xs, axis=None), y=alt.Y("end:Q", scale=ys, axis=None)))
    if obs:
        layers.append(alt.Chart(pd.DataFrame(obs, columns=["lam", "f", "xlo", "xhi", "ylo", "yhi"])).mark_point(
            shape="circle", filled=True, color=RED, size=circle_size, opacity=1).encode(
            x=alt.X("lam:Q", scale=xs, axis=None), y=alt.Y("f:Q", scale=ys, axis=None)))
    if model:
        layers.append(alt.Chart(pd.DataFrame(model, columns=["lam", "f"])).mark_point(
            shape="diamond", filled=False, stroke="black", strokeWidth=2.2, size=140, opacity=1).encode(
            x=alt.X("lam:Q", scale=xs, axis=None), y=alt.Y("f:Q", scale=ys, axis=None)))
    return layers


def label_layers(name, z):
    head = name + ", z"
    w1 = sum(BOLD_W[c] for c in head) * 16
    w2 = sum(OBL_W[c] for c in "spec") * 11
    x0 = 13
    return [
        alt.Chart(pd.DataFrame({"t": [head]})).mark_text(align="left", baseline="middle", font=FONT, fontSize=16,
                                                         fontWeight="bold", color="black").encode(
            text="t:N", x=alt.value(x0), y=alt.value(19)),
        alt.Chart(pd.DataFrame({"t": ["spec"]})).mark_text(align="left", baseline="middle", font=FONT, fontSize=11,
                                                           fontStyle="italic", color="black").encode(
            text="t:N", x=alt.value(x0 + w1 + 0.5), y=alt.value(24)),
        alt.Chart(pd.DataFrame({"t": ["=" + z]})).mark_text(align="left", baseline="middle", font=FONT, fontSize=16,
                                                            fontWeight="bold", color="black").encode(
            text="t:N", x=alt.value(x0 + w1 + w2 + 1), y=alt.value(19)),
    ]


def main_panel(name, z, ydom, best, best_lines, old, young, young_lines, obs, ulim, caps, model, last):
    xs = alt.Scale(domain=[0, 5.5], nice=False, zero=False)
    ys = alt.Scale(type="log", domain=ydom, nice=False)
    yt = log_ticks(ydom[0], ydom[1])
    col, wid = enc_color(True)
    layers = [
        alt.Chart(spec_df("young stars", young)).mark_line(clip=True).encode(
            x=alt.X("lam:Q", scale=xs, axis=x_axis_bottom(MAIN_XTICKS, last, "wavelength [µm]" if last else None)),
            y=alt.Y("flux:Q", scale=ys, axis=y_axis_left(yt, "flux density [µJy]", 55)),
            color=col, strokeWidth=wid, order=alt.Order("lam:Q")),
        alt.Chart(lines_df("young stars", young_lines)).mark_rule(clip=True).encode(
            x=alt.X("lam:Q", scale=xs, axis=None), y=alt.Y("base:Q", scale=ys, axis=None), y2="peak:Q",
            color=col, strokeWidth=wid),
        alt.Chart(spec_df("old stars", old)).mark_line(clip=True).encode(
            x=alt.X("lam:Q", scale=xs, axis=x_axis_top(MAIN_XTICKS)),
            y=alt.Y("flux:Q", scale=ys, axis=y_axis_right(yt)),
            color=col, strokeWidth=wid, order=alt.Order("lam:Q")),
        alt.Chart(spec_df("best fit", best)).mark_line(clip=True).encode(
            x=alt.X("lam:Q", scale=xs, axis=None), y=alt.Y("flux:Q", scale=ys, axis=None),
            color=col, strokeWidth=wid, order=alt.Order("lam:Q")),
        alt.Chart(lines_df("best fit", best_lines)).mark_rule(clip=True).encode(
            x=alt.X("lam:Q", scale=xs, axis=None), y=alt.Y("base:Q", scale=ys, axis=None), y2="peak:Q",
            color=col, strokeWidth=wid),
    ]
    layers += point_layers(xs, ys, obs, ulim, caps, model)
    layers += label_layers(name, z)
    return alt.layer(*layers).properties(width=682, height=367).resolve_axis(x="independent", y="independent")


def inset_panel(xdom, ydom, xticks, yticks, best, old, young, obs, model, ulim):
    xs = alt.Scale(domain=xdom, nice=False, zero=False)
    ys = alt.Scale(type="log", domain=ydom, nice=False)
    col, wid = enc_color(False)
    base_young = young if young else [(xdom[0], ydom[0] * 1e-3), (xdom[1], ydom[0] * 1e-3)]
    base_old = old if old else [(xdom[0], ydom[0] * 1e-3), (xdom[1], ydom[0] * 1e-3)]
    layers = [
        alt.Chart(spec_df("young stars", base_young)).mark_line(clip=True).encode(
            x=alt.X("lam:Q", scale=xs, axis=x_axis_bottom(xticks, True, None, pad=6)),
            y=alt.Y("flux:Q", scale=ys, axis=y_axis_left(yticks, None, 50)),
            color=col, strokeWidth=wid, order=alt.Order("lam:Q")),
        alt.Chart(spec_df("old stars", base_old)).mark_line(clip=True).encode(
            x=alt.X("lam:Q", scale=xs, axis=x_axis_top(xticks)),
            y=alt.Y("flux:Q", scale=ys, axis=y_axis_right(yticks)),
            color=col, strokeWidth=wid, order=alt.Order("lam:Q")),
        alt.Chart(spec_df("best fit", best)).mark_line(clip=True).encode(
            x=alt.X("lam:Q", scale=xs, axis=None), y=alt.Y("flux:Q", scale=ys, axis=None),
            color=col, strokeWidth=wid, order=alt.Order("lam:Q")),
    ]
    ob = [(l, f, l, l, f, f) for (l, f) in obs]
    if ulim:
        ud = pd.DataFrame(ulim, columns=["lam", "f", "end"])
        layers.append(alt.Chart(ud).mark_rule(color=RED, strokeWidth=2).encode(
            x=alt.X("lam:Q", scale=xs, axis=None), y=alt.Y("f:Q", scale=ys, axis=None), y2="end:Q"))
        layers.append(alt.Chart(ud).mark_point(shape="triangle-down", filled=True, color=RED, size=40,
                                               opacity=1).encode(
            x=alt.X("lam:Q", scale=xs, axis=None), y=alt.Y("end:Q", scale=ys, axis=None)))
    layers += point_layers(xs, ys, ob, [], [], model)
    return alt.layer(*layers).properties(width=187, height=167).resolve_axis(x="independent", y="independent")


GAL = [
    (JD1_NAME, JD1_Z, JD1_YDOM, JD1_BEST, JD1_BEST_LINES, JD1_OLD, JD1_YOUNG, JD1_YOUNG_LINES, JD1_OBS, JD1_ULIM,
     JD1_CAPS, JD1_MODEL, JD1_IN_XDOM, JD1_IN_YDOM, JD1_IN_XTICKS, JD1_IN_YTICKS, JD1_IN_BEST, JD1_IN_OLD,
     JD1_IN_YOUNG, JD1_IN_OBS, JD1_IN_MODEL, JD1_IN_ULIM),
    (YD4_NAME, YD4_Z, YD4_YDOM, YD4_BEST, YD4_BEST_LINES, YD4_OLD, YD4_YOUNG, YD4_YOUNG_LINES, YD4_OBS, YD4_ULIM,
     YD4_CAPS, YD4_MODEL, YD4_IN_XDOM, YD4_IN_YDOM, YD4_IN_XTICKS, YD4_IN_YTICKS, YD4_IN_BEST, YD4_IN_OLD,
     YD4_IN_YOUNG, YD4_IN_OBS, YD4_IN_MODEL, YD4_IN_ULIM),
    (Y1_NAME, Y1_Z, Y1_YDOM, Y1_BEST, Y1_BEST_LINES, Y1_OLD, Y1_YOUNG, Y1_YOUNG_LINES, Y1_OBS, Y1_ULIM,
     Y1_CAPS, Y1_MODEL, Y1_IN_XDOM, Y1_IN_YDOM, Y1_IN_XTICKS, Y1_IN_YTICKS, Y1_IN_BEST, Y1_IN_OLD,
     Y1_IN_YOUNG, Y1_IN_OBS, Y1_IN_MODEL, Y1_IN_ULIM),
    (B14_NAME, B14_Z, B14_YDOM, B14_BEST, B14_BEST_LINES, B14_OLD, B14_YOUNG, B14_YOUNG_LINES, B14_OBS, B14_ULIM,
     B14_CAPS, B14_MODEL, B14_IN_XDOM, B14_IN_YDOM, B14_IN_XTICKS, B14_IN_YTICKS, B14_IN_BEST, B14_IN_OLD,
     B14_IN_YOUNG, B14_IN_OBS, B14_IN_MODEL, B14_IN_ULIM),
]
panels = []
for i, g in enumerate(GAL):
    last = i == len(GAL) - 1
    panels.append(main_panel(*g[:12], last))
    panels.append(inset_panel(*g[12:]))

chart = alt.concat(*panels, columns=2, spacing={"row": 33, "column": 59}, bounds="flush").resolve_scale(
    color="independent", strokeWidth="independent", x="independent", y="independent"
).properties(
    padding={"left": 5, "top": 0, "right": 0, "bottom": 0}
).configure(font=FONT).configure_view(stroke="black", strokeWidth=2)

chart.save("out.html", embed_options={"renderer": "svg", "actions": False})
